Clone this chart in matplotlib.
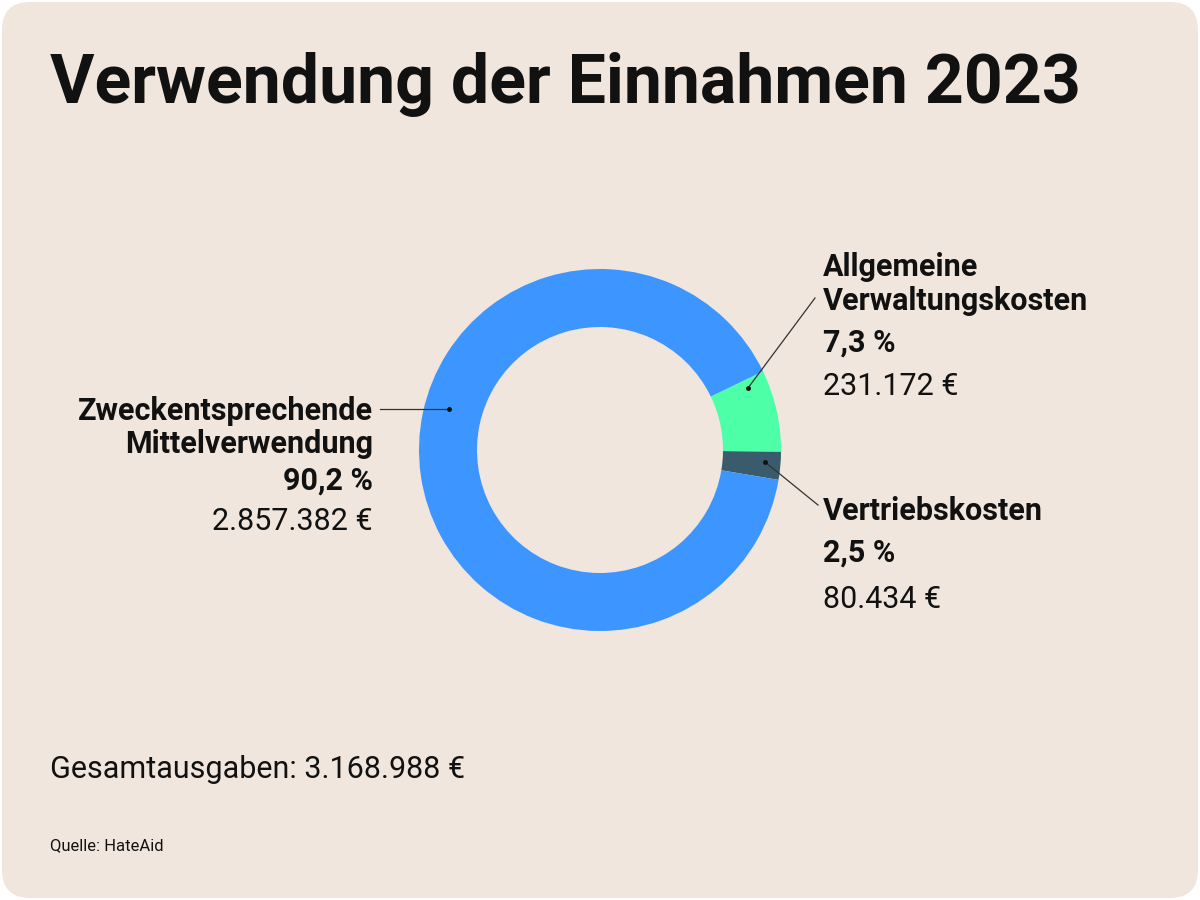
import matplotlib
matplotlib.use("Agg")
import matplotlib.pyplot as plt
from matplotlib.patches import FancyBboxPatch

categories = ["Vertriebskosten", "Allgemeine Verwaltungskosten", "Zweckentsprechende Mittelverwendung"]
shares = [2.5, 7.3, 90.2]
amounts = ["80.434 €", "231.172 €", "2.857.382 €"]
pct_labels = ["2,5 %", "7,3 %", "90,2 %"]
colors = ["#3A5B6B", "#4DFFA6", "#3D96FF"]
total_label = "Gesamtausgaben: 3.168.988 €"

plt.rcParams["font.family"] = "Roboto"
fig = plt.figure(figsize=(12, 9), dpi=100)
fig.patch.set_facecolor("white")
ax = fig.add_axes([0, 0, 1, 1])
ax.set_xlim(0, 1200)
ax.set_ylim(0, 900)
ax.set_aspect("equal")
ax.axis("off")

def Y(y):
    return 900 - y

ax.add_patch(FancyBboxPatch((2, 2), 1196, 896, boxstyle="round,pad=0,rounding_size=28",
                            fc="#F0E6DD", ec="none", zorder=0))

ax.pie(shares, colors=colors, startangle=-9.5, counterclock=True,
       center=(600, 450), radius=181, wedgeprops=dict(width=58, linewidth=0),
       frame=True)
ax.set_xlim(0, 1200)
ax.set_ylim(0, 900)
ax.axis("off")

tc = "#111111"
ax.text(50, Y(103), "Verwendung der Einnahmen 2023", fontsize=49, fontweight="bold",
        color=tc, va="baseline", ha="left")

# left label
for y, t, w in [(420, "Zweckentsprechende", "bold"), (453, "Mittelverwendung", "bold"),
                (490, pct_labels[2], "bold"), (530, amounts[2], "normal")]:
    ax.text(373, Y(y), t, fontsize=22, fontweight=w, color=tc, ha="right", va="baseline")
for y, t, w in [(276, "Allgemeine", "bold"), (310, "Verwaltungskosten", "bold"),
                (352, pct_labels[1], "bold"), (395, amounts[1], "normal")]:
    ax.text(823, Y(y), t, fontsize=22, fontweight=w, color=tc, ha="left", va="baseline")
for y, t, w in [(520, "Vertriebskosten", "bold"), (562, pct_labels[0], "bold"),
                (608, amounts[0], "normal")]:
    ax.text(823, Y(y), t, fontsize=22, fontweight=w, color=tc, ha="left", va="baseline")

# leader lines
for (x0, y0), (x1, y1) in [((449, 409), (380, 409)), ((748, 388), (815, 298)),
                           ((765, 462), (818, 505))]:
    ax.plot([x0, x1], [Y(y0), Y(y1)], color="#333333", lw=0.9, zorder=5)
    ax.plot([x0], [Y(y0)], "o", color="#111111", ms=2.5, zorder=6)

ax.text(50, Y(778), total_label, fontsize=22, color=tc, ha="left", va="baseline")
ax.text(50, Y(850), "Quelle: HateAid", fontsize=12, color=tc, ha="left", va="baseline")

fig.savefig("out.png", dpi=100, facecolor="white")
